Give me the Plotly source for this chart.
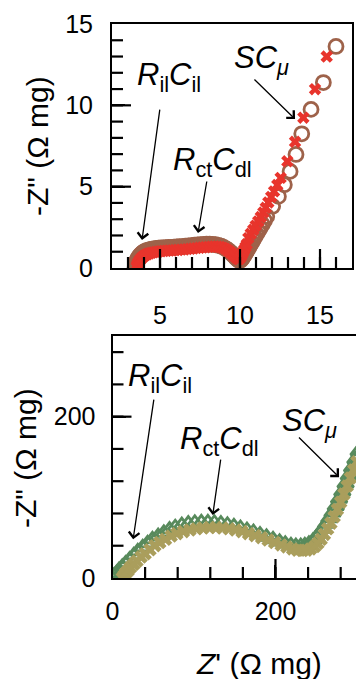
import plotly.graph_objects as go

W, H = 356, 679

# ---------------- data ----------------
top_circ_x = [3.45, 3.47, 3.50, 3.53, 3.57, 3.62, 3.68, 3.74, 3.81, 3.89, 3.97, 4.06, 4.16, 4.27,
              4.38, 4.50, 4.63, 4.77, 4.91, 5.06, 5.21, 5.37, 5.53, 5.70, 5.87, 6.04, 6.22, 6.40,
              6.58, 6.77, 6.96, 7.15, 7.34, 7.53, 7.72, 7.91, 8.10, 8.29, 8.47, 8.65, 8.82, 8.98,
              9.13, 9.27, 9.40, 9.52, 9.62, 9.71, 9.79, 9.86, 9.92, 9.97, 10.02, 10.07, 10.12,
              10.18, 10.24, 10.31, 10.38, 10.46, 10.54, 10.63, 10.72, 10.82, 10.92, 11.03, 11.14,
              11.26, 11.39, 11.53, 11.67, 12.04, 12.40, 12.77, 13.13, 13.50, 13.86, 14.44, 15.21,
              16.00]
top_circ_y = [0.05, 0.15, 0.26, 0.37, 0.48, 0.58, 0.68, 0.76, 0.84, 0.91, 0.97, 1.02, 1.06, 1.10,
              1.13, 1.16, 1.18, 1.20, 1.22, 1.23, 1.24, 1.25, 1.26, 1.27, 1.28, 1.29, 1.31, 1.32,
              1.34, 1.36, 1.38, 1.40, 1.42, 1.44, 1.45, 1.46, 1.46, 1.45, 1.43, 1.39, 1.34, 1.27,
              1.18, 1.08, 0.97, 0.86, 0.76, 0.67, 0.59, 0.53, 0.49, 0.47, 0.48, 0.52, 0.58,
              0.66, 0.75, 0.86, 0.98, 1.11, 1.25, 1.40, 1.55, 1.72, 1.89, 2.07, 2.26,
              2.46, 2.68, 2.92, 3.17, 3.79, 4.40, 5.12, 5.94, 6.98, 8.25, 9.75, 11.40,
              13.62]
top_cross_x = [3.55, 3.57, 3.60, 3.64, 3.69, 3.75, 3.82, 3.90, 3.99, 4.09, 4.20, 4.32, 4.45, 4.59,
               4.74, 4.90, 5.06, 5.23, 5.40, 5.58, 5.76, 5.94, 6.13, 6.32, 6.51, 6.70, 6.89, 7.08,
               7.27, 7.46, 7.65, 7.84, 8.03, 8.22, 8.40, 8.58, 8.75, 8.91, 9.06, 9.20, 9.33, 9.45,
               9.56, 9.66, 9.75, 9.83, 9.90, 9.96, 10.02, 10.08, 10.14, 10.20, 10.27, 10.34, 10.42,
               10.52, 10.67, 10.83, 10.98, 11.14, 11.30, 11.46, 11.61, 11.77, 11.95, 12.13, 12.33,
               12.54, 12.96, 13.44, 13.96, 14.69, 15.42]
top_cross_y = [0.05, 0.14, 0.23, 0.32, 0.41, 0.50, 0.58, 0.66, 0.73, 0.79, 0.85, 0.89, 0.93, 0.96,
               0.99, 1.01, 1.03, 1.05, 1.06, 1.07, 1.08, 1.10, 1.11, 1.13, 1.14, 1.16, 1.18, 1.20,
               1.22, 1.24, 1.26, 1.28, 1.30, 1.31, 1.32, 1.31, 1.29, 1.25, 1.19, 1.11, 1.02, 0.92,
               0.82, 0.73, 0.65, 0.59, 0.55, 0.56, 0.64, 0.74, 0.86, 0.99, 1.13, 1.29, 1.46,
               1.83, 2.10, 2.35, 2.60, 2.86, 3.13, 3.41, 3.70, 4.03, 4.37, 4.71, 5.10,
               5.54, 6.56, 7.76, 9.24, 10.99, 13.00]

bot_tri_x = [0, 2, 5, 8, 12, 16, 21, 26, 31, 37, 43, 49, 56, 63, 70, 77, 85, 93, 101, 109, 117,
             125, 133, 141, 149, 157, 165, 173, 181, 189, 197, 205, 212, 219, 225, 231, 236, 241,
             246, 250, 254, 258, 262, 266, 270, 274, 278, 282, 286, 290, 294, 298, 302]
bot_tri_y = [0, 3, 6, 10, 14, 18, 23, 28, 33, 38, 43, 48, 52, 56, 60, 63, 65.5, 67.5, 68.5, 69,
             69, 68.5, 67.5, 66, 64, 62, 59.5, 57, 54, 51, 48, 45, 42.5, 40.5, 39.5, 39.5, 40.5,
             42.5, 46, 50, 55, 61, 67, 74, 81, 89, 98, 107, 117, 127, 137, 147, 157]
bot_cross_x = [12, 14, 16, 19, 22, 26, 30, 35, 40, 46, 52, 58, 65, 72, 79, 87, 95, 103, 111, 119,
               127, 135, 143, 151, 159, 167, 175, 183, 191, 199, 207, 214, 221, 227, 233, 238,
               243, 248, 252, 256, 260, 264, 268, 272, 276, 280, 284, 288, 292, 296, 300]
bot_cross_y = [0, 3, 6, 9, 13, 17, 21, 26, 30, 35, 40, 44, 48, 52, 55, 57.5, 59.5, 61, 62,
               62.5, 62.5, 62, 61, 59.5, 57.5, 55, 52.5, 50, 47, 44, 41, 38.5, 36, 34.5, 34,
               34.5, 36, 39, 43, 48, 54, 61, 68, 76, 85, 94, 104, 114, 124, 134, 144]

# axis ranges, tick positions and tick labels
top_x_range, top_y_range = [2, 17], [0, 15]
top_x_labels = [5, 10, 15]
top_y_labels = [0, 5, 10, 15]
top_x_minor = list(range(3, 17))
top_x_major = [5, 10, 15]
top_y_minor = list(range(1, 15))
top_y_major = [5, 10]
bot_x_range, bot_y_range = [0, 298.8], [0, 300]
bot_labels = [0, 200]
bot_minor = list(range(40, 300, 40))
bot_major = [200]

BROWN = "rgb(158,98,74)"
RED = "rgb(232,52,44)"
GREEN = "rgb(88,138,92)"
OLIVE = "rgb(170,158,92)"
FONT = "Liberation Sans, Arial, sans-serif"
TFONT = dict(family=FONT, size=25, color="black")

# panel geometry in pixels (left, right, top, bottom)
TOP_BOX = (112, 352, 24, 268)
BOT_BOX = (112.5, 356, 336, 578)

fig = go.Figure()
fig.add_trace(go.Scatter(x=top_circ_x, y=top_circ_y, mode="markers", xaxis="x", yaxis="y",
                         marker=dict(symbol="circle-open", size=14, color=BROWN,
                                     line=dict(width=2.8, color=BROWN))))
fig.add_trace(go.Scatter(x=top_cross_x, y=top_cross_y, mode="markers", xaxis="x", yaxis="y",
                         marker=dict(symbol="x", size=11, color=RED, line=dict(width=0))))
fig.add_trace(go.Scatter(x=bot_tri_x, y=bot_tri_y, mode="markers", xaxis="x2", yaxis="y2",
                         marker=dict(symbol="triangle-up-open", size=14, color=GREEN,
                                     line=dict(width=2.8, color=GREEN))))
fig.add_trace(go.Scatter(x=bot_cross_x, y=bot_cross_y, mode="markers", xaxis="x2", yaxis="y2",
                         marker=dict(symbol="x", size=12, color=OLIVE, line=dict(width=0))))


def axis(labels, **kw):
    d = dict(showline=True, linecolor="black", linewidth=2, showgrid=False, zeroline=False,
             ticks="inside", ticklen=13, tickwidth=2, tickcolor="black",
             tickmode="array", tickvals=labels, ticktext=[str(v) for v in labels],
             tickfont=TFONT, automargin=False)
    d.update(kw)
    return d


fig.update_layout(
    width=W, height=H, margin=dict(l=0, r=0, t=0, b=0),
    paper_bgcolor="white", plot_bgcolor="white", showlegend=False,
    xaxis=axis(top_x_labels, domain=[TOP_BOX[0] / W, TOP_BOX[1] / W], range=top_x_range,
               anchor="y", mirror=True, ticklabelstandoff=24),
    yaxis=axis(top_y_labels, domain=[1 - TOP_BOX[3] / H, 1 - TOP_BOX[2] / H],
               range=top_y_range, anchor="x", mirror=True, ticklabelstandoff=12),
    xaxis2=axis(bot_labels, domain=[BOT_BOX[0] / W, 1], range=bot_x_range,
                anchor="y2", mirror=True, ticklabelstandoff=10),
    yaxis2=axis(bot_labels, domain=[1 - BOT_BOX[3] / H, 1 - BOT_BOX[2] / H],
                range=bot_y_range, anchor="x2", mirror=False, ticklabelstandoff=10),
)

# inward tick marks (minor 11 px, major 19 px), x/y positions on the axes' own scales
shapes = []
TICK = dict(color="black", width=2.2)


def xticks(xref, vals, length, box):
    y0 = 1 - box[3] / H
    y1 = 1 - (box[3] - length) / H
    for v in vals:
        shapes.append(dict(type="line", xref=xref, yref="paper", x0=v, x1=v, y0=y0, y1=y1,
                           line=TICK, layer="above"))


def yticks(yref, vals, length, box):
    x0 = box[0] / W
    x1 = (box[0] + length) / W
    for v in vals:
        shapes.append(dict(type="line", xref="paper", yref=yref, x0=x0, x1=x1, y0=v, y1=v,
                           line=TICK, layer="above"))


xticks("x", top_x_minor, 11, TOP_BOX)
xticks("x", top_x_major, 19, TOP_BOX)
yticks("y", top_y_minor, 11, TOP_BOX)
yticks("y", top_y_major, 19, TOP_BOX)
xticks("x2", bot_minor, 11, BOT_BOX)
xticks("x2", bot_major, 19, BOT_BOX)
yticks("y2", bot_minor, 11, BOT_BOX)
yticks("y2", bot_major, 19, BOT_BOX)
fig.update_layout(shapes=shapes)


def P(xp, yp):
    return xp / W, 1 - yp / H


annotations = []
TF = dict(family=FONT, size=31, color="black")
for (xp, yp, txt, ang) in [(37, 146, '-Z" (Ω mg)', -90), (25, 458, '-Z" (Ω mg)', -90),
                           (259, 663, "<i>Z</i>' (Ω mg)", 0)]:
    x, y = P(xp, yp)
    annotations.append(dict(x=x, y=y, xref="paper", yref="paper", text=txt, textangle=ang,
                            showarrow=False, xanchor="center", yanchor="middle",
                            font=dict(family=FONT, size=30, color="black")))
RIL = "<i>R</i><sub>il</sub><i>C</i><sub>il</sub>"
RCT = "<i>R</i><sub>ct</sub><i>C</i><sub>dl</sub>"
SCM = "<i>SC</i><sub><i>μ</i></sub>"
for (xp, yp, txt) in [(135, 77, RIL), (171, 162, RCT), (232, 60, SCM),
                      (126, 378, RIL), (178, 441, RCT), (280, 423, SCM)]:
    x, y = P(xp, yp)
    annotations.append(dict(x=x, y=y, xref="paper", yref="paper", text=txt, showarrow=False,
                            xanchor="left", yanchor="middle", font=TF))
arrows = [("x", "y", 3.875, 1.72, 5.0, 9.83),
          ("x", "y", 7.375, 2.15, 7.94, 5.41),
          ("x", "y", 13.44, 9.16, 10.81, 11.68),
          ("x2", "y2", 25.3, 48.0, 51.0, 223.0),
          ("x2", "y2", 123.0, 78.0, 133.0, 148.5),
          ("x2", "y2", 278.0, 125.0, 227.0, 176.0)]
for (xr, yr, hx, hy, tx, ty) in arrows:
    annotations.append(dict(x=hx, y=hy, xref=xr, yref=yr, ax=tx, ay=ty, axref=xr, ayref=yr,
                            text="", showarrow=True, arrowhead=4, arrowsize=1.6,
                            arrowwidth=1.3, arrowcolor="black", standoff=0))

fig.update_layout(annotations=annotations)
fig.write_html("out.html")
